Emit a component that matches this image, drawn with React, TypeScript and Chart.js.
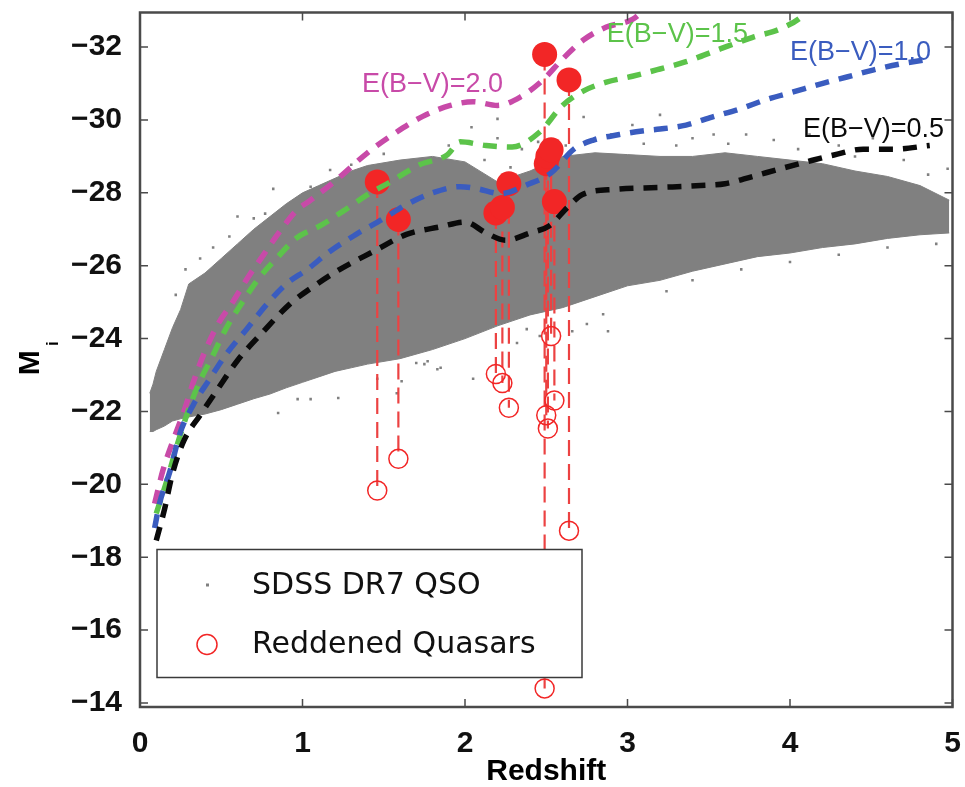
import React, { useEffect, useRef } from 'react';
import { Chart, registerables } from 'chart.js';

Chart.register(...registerables);

// ---------------- data ----------------
// SDSS DR7 QSO cloud: outline of the dense region (redshift, M_i)
const cloudZ = [0.06, 0.08, 0.10, 0.15, 0.20, 0.25, 0.30, 0.40, 0.50, 0.60, 0.70, 0.80, 0.90, 1.00, 1.10, 1.20, 1.30, 1.40, 1.60, 1.80, 2.00, 2.20, 2.40, 2.60, 2.80, 3.00, 3.20, 3.40, 3.60, 3.80, 4.00, 4.20, 4.40, 4.60, 4.80, 4.98];
const cloudTop = [-22.5, -22.75, -23.1, -23.7, -24.3, -24.8, -25.5, -25.8, -26.2, -26.6, -27.0, -27.35, -27.7, -28.0, -28.2, -28.4, -28.6, -28.75, -28.9, -29.0, -28.85, -28.3, -28.6, -29.0, -29.1, -29.05, -29.0, -29.0, -29.1, -29.0, -28.9, -28.8, -28.6, -28.45, -28.2, -27.8];
const cloudBottom = [-21.45, -21.45, -21.5, -21.6, -21.74, -21.8, -21.85, -21.93, -22.05, -22.2, -22.35, -22.48, -22.65, -22.8, -22.95, -23.1, -23.2, -23.3, -23.45, -23.7, -24.0, -24.35, -24.65, -24.85, -25.15, -25.45, -25.6, -25.85, -26.05, -26.25, -26.35, -26.5, -26.6, -26.75, -26.85, -26.9];

// scattered SDSS quasars outside the dense region
const dotZ = [0.22, 0.28, 0.37, 0.45, 0.55, 0.60, 0.70, 0.77, 0.82, 1.05, 1.17, 1.30, 1.50, 1.90, 2.04, 2.20, 2.20, 2.35, 2.45, 2.73, 2.90, 3.03, 3.20, 3.40, 3.53, 3.73, 3.90, 4.12, 4.30, 4.51, 4.70, 4.85, 4.97,
  0.85, 0.97, 1.05, 1.22, 1.46, 1.58, 1.61, 1.70, 1.75, 1.77, 1.83, 1.85, 2.05, 2.32, 2.38, 2.46, 2.66, 2.75, 2.85, 2.88, 3.24, 3.40, 3.70, 4.00, 4.30, 4.60, 4.90,
  2.12, 2.28, 2.62, 3.10, 3.30, 3.62, 4.05, 4.40];
const dotM = [-25.2, -25.9, -26.2, -26.5, -26.8, -27.35, -27.3, -27.43, -28.11, -28.17, -28.63, -28.77, -29.07, -29.3, -29.8, -30.03, -29.5, -29.2, -29.4, -30.08, -29.6, -29.86, -30.14, -29.5, -29.6, -29.6, -29.45, -29.6, -29.3, -29.5, -28.9, -28.5, -28.66,
  -21.96, -22.34, -22.34, -22.37, -22.9, -22.5, -22.83, -23.33, -23.3, -23.38, -23.16, -23.2, -22.9, -23.88, -24.26, -24.07, -24.2, -24.4, -24.67, -24.2, -25.3, -25.6, -25.9, -26.1, -26.3, -26.5, -26.6,
  -28.9, -28.7, -29.3, -29.35, -29.3, -29.35, -29.2, -29.0];

// reddening tracks
const ebv05Z = [0.10, 0.15, 0.20, 0.27, 0.37, 0.47, 0.60, 0.76, 0.92, 1.09, 1.23, 1.44, 1.64, 1.85, 2.00, 2.13, 2.25, 2.40, 2.52, 2.63, 2.72, 2.93, 3.20, 3.45, 3.60, 3.77, 3.94, 4.10, 4.27, 4.45, 4.64, 4.86];
const ebv05M = [-18.46, -19.3, -20.3, -21.2, -21.9, -22.56, -23.4, -24.2, -24.94, -25.5, -25.9, -26.4, -26.86, -27.07, -27.2, -26.9, -26.7, -26.9, -27.1, -27.6, -27.95, -28.1, -28.15, -28.2, -28.25, -28.45, -28.66, -28.85, -29.04, -29.2, -29.2, -29.3];
const ebv10Z = [0.09, 0.12, 0.185, 0.246, 0.33, 0.42, 0.53, 0.66, 0.78, 0.90, 1.03, 1.17, 1.33, 1.50, 1.64, 1.80, 1.97, 2.07, 2.22, 2.38, 2.53, 2.67, 2.79, 2.95, 3.09, 3.20, 3.36, 3.52, 3.69, 3.86, 4.02, 4.18, 4.35, 4.51, 4.67, 4.86];
const ebv10M = [-18.8, -19.47, -20.37, -21.4, -22.2, -22.83, -23.57, -24.28, -24.94, -25.5, -25.9, -26.4, -26.86, -27.3, -27.68, -28.0, -28.17, -28.12, -27.98, -28.22, -28.55, -29.2, -29.45, -29.6, -29.7, -29.75, -29.86, -30.08, -30.3, -30.57, -30.77, -30.98, -31.18, -31.37, -31.53, -31.67];
const ebv15Z = [0.10, 0.165, 0.23, 0.29, 0.36, 0.44, 0.53, 0.63, 0.73, 0.84, 0.96, 1.11, 1.25, 1.40, 1.54, 1.72, 1.89, 1.97, 2.13, 2.29, 2.46, 2.60, 2.73, 2.87, 3.03, 3.20, 3.36, 3.57, 3.77, 3.94, 4.08, 4.12];
const ebv15M = [-19.2, -20.1, -21.1, -21.93, -22.75, -23.46, -24.28, -25.0, -25.65, -26.2, -26.75, -27.1, -27.5, -27.95, -28.3, -28.77, -29.04, -29.4, -29.3, -29.26, -29.67, -30.4, -30.8, -31.04, -31.2, -31.4, -31.6, -31.95, -32.27, -32.5, -32.87, -33.1];
const ebv20Z = [0.09, 0.14, 0.21, 0.27, 0.33, 0.40, 0.48, 0.57, 0.66, 0.76, 0.86, 0.96, 1.05, 1.21, 1.40, 1.58, 1.74, 1.91, 2.05, 2.20, 2.34, 2.48, 2.60, 2.73, 2.87, 3.03, 3.12];
const ebv20M = [-19.47, -20.37, -21.28, -22.0, -22.83, -23.65, -24.4, -25.0, -25.65, -26.3, -26.94, -27.5, -27.8, -28.36, -29.1, -29.67, -30.1, -30.4, -30.5, -30.4, -30.63, -31.1, -31.67, -32.2, -32.55, -32.76, -33.1];

// reddened quasars: observed (open) and dereddened (filled)
const qsoZ = [1.46, 1.59, 2.19, 2.23, 2.27, 2.49, 2.50, 2.51, 2.53, 2.55, 2.64];
const qsoMobs = [-19.83, -20.7, -23.03, -22.78, -22.1, -14.4, -21.9, -21.53, -24.07, -22.3, -18.73];
const qsoMcorr = [-28.3, -27.27, -27.45, -27.6, -28.25, -31.8, -28.8, -29.0, -29.18, -27.76, -31.1];

const curveNames = ['E(B\u2212V)=0.5', 'E(B\u2212V)=1.0', 'E(B\u2212V)=1.5', 'E(B\u2212V)=2.0'];
const legendNames = ['SDSS DR7 QSO', 'Reddened Quasars'];
const xTitle = 'Redshift';
const yTitleMain = 'M';
const yTitleSub = 'i';

// ---------------- styles ----------------
const GRAY = '#808080';
const RED = '#f22626';
const RED_LINE = '#ec4242';
const curveColors = ['#0a0a0a', '#3a5cbf', '#5cc34a', '#c84aa8'];
const SANS = '"Liberation Sans", Arial, Helvetica, sans-serif';
// label anchors (left edge, vertical centre) in data units
const curveLabelAt = [
  { z: 4.08, m: -29.75 },
  { z: 4.0, m: -31.86 },
  { z: 2.873, m: -32.35 },
  { z: 1.366, m: -30.96 },
];

const pts = (xs: number[], ys: number[]) => xs.map((x, i) => ({ x, y: ys[i] }));

const decorPlugin = {
  id: 'decor',
  afterDatasetsDraw(chart: any) {
    const { ctx, chartArea: a, scales } = chart;
    const xs = scales.x;
    const ys = scales.y;
    ctx.save();

    // curve labels
    ctx.font = `27px ${SANS}`;
    ctx.textAlign = 'left';
    ctx.textBaseline = 'middle';
    curveLabelAt.forEach((p, i) => {
      ctx.fillStyle = curveColors[i];
      ctx.fillText(curveNames[i], xs.getPixelForValue(p.z), ys.getPixelForValue(p.m));
    });

    // legend box
    const lx = a.left + 17;
    const ly = a.top + 537;
    const lw = 425;
    const lh = 128;
    ctx.fillStyle = '#ffffff';
    ctx.fillRect(lx, ly, lw, lh);
    ctx.strokeStyle = '#3a3a3a';
    ctx.lineWidth = 1.5;
    ctx.strokeRect(lx, ly, lw, lh);
    ctx.fillStyle = GRAY;
    ctx.fillRect(lx + 49, ly + 34, 3, 3);
    ctx.beginPath();
    ctx.strokeStyle = RED;
    ctx.lineWidth = 1.5;
    ctx.arc(lx + 50, ly + 95, 10, 0, Math.PI * 2);
    ctx.stroke();
    ctx.fillStyle = '#111';
    ctx.font = `30px "DejaVu Sans", ${SANS}`;
    ctx.textAlign = 'left';
    ctx.textBaseline = 'middle';
    ctx.fillText(legendNames[0], lx + 95, ly + 37);
    ctx.fillText(legendNames[1], lx + 95, ly + 96);

    // frame and inward ticks
    ctx.strokeStyle = '#4a4a4a';
    ctx.lineWidth = 2.5;
    ctx.strokeRect(a.left, a.top, a.right - a.left, a.bottom - a.top);
    ctx.lineWidth = 1.5;
    ctx.beginPath();
    xs.ticks.forEach((t: any) => {
      const px = xs.getPixelForValue(t.value);
      ctx.moveTo(px, a.bottom);
      ctx.lineTo(px, a.bottom - 8);
      ctx.moveTo(px, a.top);
      ctx.lineTo(px, a.top + 8);
    });
    ys.ticks.forEach((t: any) => {
      const py = ys.getPixelForValue(t.value);
      ctx.moveTo(a.left, py);
      ctx.lineTo(a.left + 8, py);
      ctx.moveTo(a.right, py);
      ctx.lineTo(a.right - 8, py);
    });
    ctx.stroke();

    // y-axis title M_i
    ctx.translate(a.left - 109, (a.top + a.bottom) / 2 + 3);
    ctx.rotate(-Math.PI / 2);
    ctx.fillStyle = '#000';
    ctx.textAlign = 'center';
    ctx.textBaseline = 'middle';
    ctx.font = `bold 30px ${SANS}`;
    ctx.fillText(yTitleMain, 0, 0);
    ctx.font = `bold 17px ${SANS}`;
    ctx.fillText(yTitleSub, 19, 22);
    ctx.restore();
  },
};

export default function App() {
  const ref = useRef<HTMLCanvasElement | null>(null);

  useEffect(() => {
    if (!ref.current) return;
    const curve = (z: number[], m: number[], i: number, label: string) => ({
      label,
      data: pts(z, m),
      borderColor: curveColors[i],
      borderWidth: 5.5,
      borderDash: [14, 10],
      borderCapStyle: 'butt',
      pointRadius: 0,
      fill: false,
      cubicInterpolationMode: 'monotone',
      order: 10 + i,
    });

    const redLines = qsoZ.map((z, i) => ({
      label: `link ${i}`,
      data: [{ x: z, y: qsoMcorr[i] }, { x: z, y: qsoMobs[i] }],
      borderColor: RED_LINE,
      borderWidth: 2.2,
      borderDash: [16, 8],
      pointRadius: 0,
      fill: false,
      order: 50,
    }));

    const datasets: any[] = [
      {
        label: 'cloud bottom',
        data: pts(cloudZ, cloudBottom),
        borderColor: GRAY,
        borderWidth: 1,
        pointRadius: 0,
        fill: false,
        order: 100,
      },
      {
        label: 'cloud top',
        data: pts(cloudZ, cloudTop),
        borderColor: GRAY,
        borderWidth: 1,
        backgroundColor: GRAY,
        pointRadius: 0,
        fill: 0,
        order: 99,
      },
      {
        label: legendNames[0],
        data: pts(dotZ, dotM),
        showLine: false,
        pointStyle: 'rect',
        pointRadius: 1.8,
        pointBackgroundColor: GRAY,
        pointBorderWidth: 0,
        order: 98,
      },
      ...redLines,
      {
        label: legendNames[1],
        data: pts(qsoZ, qsoMobs),
        showLine: false,
        pointRadius: 9.5,
        pointBackgroundColor: 'rgba(0,0,0,0)',
        pointBorderColor: RED,
        pointBorderWidth: 1.5,
        order: 40,
      },
      {
        label: 'Dereddened',
        data: pts(qsoZ, qsoMcorr),
        showLine: false,
        pointRadius: 12.5,
        pointBackgroundColor: RED,
        pointBorderWidth: 0,
        order: 30,
      },
      curve(ebv05Z, ebv05M, 0, curveNames[0]),
      curve(ebv10Z, ebv10M, 1, curveNames[1]),
      curve(ebv15Z, ebv15M, 2, curveNames[2]),
      curve(ebv20Z, ebv20M, 3, curveNames[3]),
    ];

    const tickFont = { family: SANS, size: 30, weight: 'bold' as const };

    const chart = new Chart(ref.current, {
      type: 'line',
      data: { datasets },
      options: {
        animation: false,
        responsive: true,
        maintainAspectRatio: false,
        events: [],
        layout: { padding: { top: 8, right: 12, bottom: 0, left: 0 } },
        plugins: {
          legend: { display: false },
          tooltip: { enabled: false },
          filler: { propagate: false },
        },
        scales: {
          x: {
            type: 'linear',
            min: 0,
            max: 5,
            grid: { display: false },
            border: { display: false },
            ticks: {
              stepSize: 1,
              padding: 11,
              maxRotation: 0,
              color: '#111',
              font: tickFont,
              callback: (v: any) => String(v),
            },
            title: {
              display: true,
              text: xTitle,
              color: '#000',
              padding: 0,
              font: { family: SANS, size: 30, weight: 'bold', lineHeight: 1 },
            },
            afterFit: (s: any) => {
              s.height = 80;
              s.paddingLeft = 0;
              s.paddingRight = 0;
            },
          },
          y: {
            type: 'linear',
            reverse: true,
            min: -32.95,
            max: -13.89,
            grid: { display: false },
            border: { display: false },
            ticks: {
              stepSize: 2,
              includeBounds: false,
              padding: 10,
              color: '#111',
              font: tickFont,
              autoSkip: false,
              callback: (v: any) => '\u2212' + Math.abs(Number(v)),
            },
            afterFit: (s: any) => {
              s.width = 140;
              s.paddingTop = 0;
              s.paddingBottom = 0;
            },
          },
        },
      } as any,
      plugins: [decorPlugin],
    });

    return () => chart.destroy();
  }, []);

  return (
    <div style={{ position: 'fixed', left: 0, top: 0, width: '965px', height: '787px', background: '#fff' }}>
      <canvas ref={ref} />
    </div>
  );
}
